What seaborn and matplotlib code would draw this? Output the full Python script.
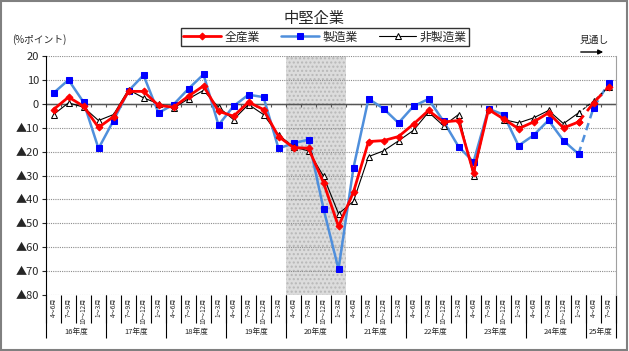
import numpy as np
import matplotlib
matplotlib.use('Agg')
import matplotlib.pyplot as plt
import seaborn as sns
from matplotlib.patches import Rectangle

# ================= DATOS =================
years = ['16年度', '17年度', '18年度', '19年度', '20年度',
         '21年度', '22年度', '23年度', '24年度', '25年度']
year_counts = [4, 4, 4, 4, 4, 4, 4, 4, 4, 2]
quarters = ['4～6月', '7～9月', '10～12月', '1～3月']
x_labels = [quarters[q] for n in year_counts for q in range(n)]

all_industry = [-2.4, 2.8, -1.0, -9.9, -5.4, 5.2, 5.2, -0.7, -1.4, 3.2,
                7.5, -3.1, -5.2, 0.7, -2.4, -13.7, -18.3, -18.6, -33.0, -51.3,
                -36.9, -15.8, -15.4, -13.7, -8.5, -2.8, -7.6, -7.0, -28.8, -2.4,
                -6.3, -10.4, -7.6, -3.8, -10.1, -7.6, 0.4, 7.0]
manufacturing = [4.5, 10.0, 0.7, -18.7, -7.0, 5.4, 12.0, -3.8, -0.3, 6.3,
                 12.3, -8.9, -1.0, 3.8, 2.8, -18.7, -16.5, -15.0, -43.9, -69.2,
                 -26.7, 2.1, -2.0, -8.0, -1.0, 2.0, -7.3, -17.9, -24.3, -2.1,
                 -4.5, -17.5, -13.2, -6.9, -15.4, -21.0, -1.7, 8.5]
non_manufacturing = [-4.5, 0.4, -1.4, -7.0, -4.5, 5.9, 2.5, 0.0, -1.8, 2.1,
                     5.6, -1.4, -6.6, -0.3, -4.5, -13.0, -18.0, -19.7, -30.3, -46.0,
                     -40.8, -22.1, -19.7, -15.5, -11.1, -3.5, -9.2, -4.5, -30.2, -2.1,
                     -6.6, -8.0, -5.9, -2.8, -8.3, -3.8, 1.1, 7.0]

shaded_year = '20年度'
forecast_start = 35   # desde aquí la línea va discontinua

# ================= FIGURA =================
sns.set_style('ticks')
plt.rcParams['font.family'] = ['Noto Sans CJK JP', 'DejaVu Sans']

W, H = 629, 351
fig = plt.figure(figsize=(W / 100, H / 100), dpi=100)
ax = fig.add_axes([46 / W, 1 - 295 / H, 570 / W, 239 / H])

n = len(x_labels)
x = np.arange(n)
ymin, ymax = -80, 20

# zona sombreada (20年度)
starts = np.cumsum([0] + year_counts[:-1])
k = years.index(shaded_year)
ax.axvspan(starts[k] - 0.5, starts[k] + year_counts[k] - 0.5,
           facecolor='#dcdcdc', edgecolor='#b8b8b8', hatch='....', lw=0, zorder=0)

series = [
    ('製造業', manufacturing, dict(color='#4f8fdc', lw=1.8, marker='s', markersize=4.5,
                                  markerfacecolor='#0000ff', markeredgecolor='#0000ff')),
    ('非製造業', non_manufacturing, dict(color='black', lw=0.8, marker='^', markersize=4.5,
                                      markerfacecolor='white', markeredgecolor='black')),
    ('全産業', all_industry, dict(color='#ff0000', lw=2.0, marker='D', markersize=3.5,
                                 markerfacecolor='#ff0000', markeredgecolor='#ff0000')),
]

for name, vals, kw in series:
    sns.lineplot(x=x[:forecast_start + 1], y=vals[:forecast_start + 1], ax=ax,
                 label=name, zorder=3, **kw)
    sns.lineplot(x=x[forecast_start:], y=vals[forecast_start:], ax=ax,
                 linestyle=(0, (3, 2)), zorder=3, **kw)
h, l = ax.get_legend_handles_labels()
ax.get_legend().remove()
order = ['全産業', '製造業', '非製造業']
hl = dict(zip(l, h))
fig.legend([hl[o] for o in order], order, loc='center',
           bbox_to_anchor=(325 / W, 1 - 37 / H), ncol=3, frameon=True,
           fancybox=False, edgecolor='black', fontsize=8.5, handlelength=3.2,
           columnspacing=1.8, borderpad=0.2, handletextpad=0.3)

# ejes
ax.set_xlim(-0.5, n - 0.5)
ax.set_ylim(ymin, ymax)
yt = list(range(ymin, ymax + 1, 10))
ax.set_yticks(yt, labels=[str(v) if v >= 0 else '▲' + str(-v) for v in yt], fontsize=8)
ax.yaxis.grid(True, linestyle=(0, (1, 1)), color='#8c8c8c', lw=0.8)
ax.axhline(0, color='#555555', lw=1.0, zorder=2)
ax.tick_params(axis='y', length=3, width=0.8, pad=2)

ax.set_xticks(x, labels=x_labels, rotation=90, fontsize=4.5)
ax.set_xticks(np.arange(-0.5, n, 1), minor=True)
ax.tick_params(axis='x', which='major', length=0, pad=2)
ax.tick_params(axis='x', which='minor', length=20, width=0.8, color='black')
ax.set_xlabel('')
ax.set_ylabel('')

for s in ['top', 'bottom']:
    ax.spines[s].set_visible(False)
ax.spines['left'].set_color('black')
ax.spines['right'].set_color('#a0a0a0')

# marcas pequeñas sobre la línea de cero
sec0 = ax.secondary_xaxis((0 - ymin) / (ymax - ymin))
sec0.set_xticks(np.arange(0.5, n - 1, 1), labels=[''] * (n - 1))
sec0.tick_params(direction='in', length=2.5, width=0.8, color='#555555')
sec0.spines['bottom'].set_visible(False)

# separadores de año y etiquetas de año
sec = ax.secondary_xaxis('bottom')
bounds = list(starts - 0.5) + [n - 0.5]
centers = [s + (c - 1) / 2 for s, c in zip(starts, year_counts)]
sec.set_xticks(bounds, labels=[''] * len(bounds))
sec.set_xticks(centers, labels=years, minor=True, fontsize=5.5)
sec.tick_params(which='major', length=31, width=0.8, color='black')
sec.tick_params(which='minor', length=0, pad=24)
sec.spines['bottom'].set_visible(False)

# textos
fig.text(0.5, 1 - 18 / H, '中堅企業', ha='center', va='center', fontsize=11)
fig.text(12 / W, 1 - 40 / H, '(%ポイント)', ha='left', va='center', fontsize=7)
fig.text(594 / W, 1 - 40 / H, '見通し', ha='center', va='center', fontsize=7)
fig.add_artist(matplotlib.patches.FancyArrowPatch(
    (578 / W, 1 - 52 / H), (606 / W, 1 - 52 / H), transform=fig.transFigure,
    arrowstyle='-|>', mutation_scale=7, color='black', lw=1))

# marco exterior
fig.add_artist(Rectangle((0.002, 0.003), 0.995, 0.994, transform=fig.transFigure,
                         fill=False, edgecolor='#808080', lw=1.5))

plt.savefig('out.png', dpi=100)
